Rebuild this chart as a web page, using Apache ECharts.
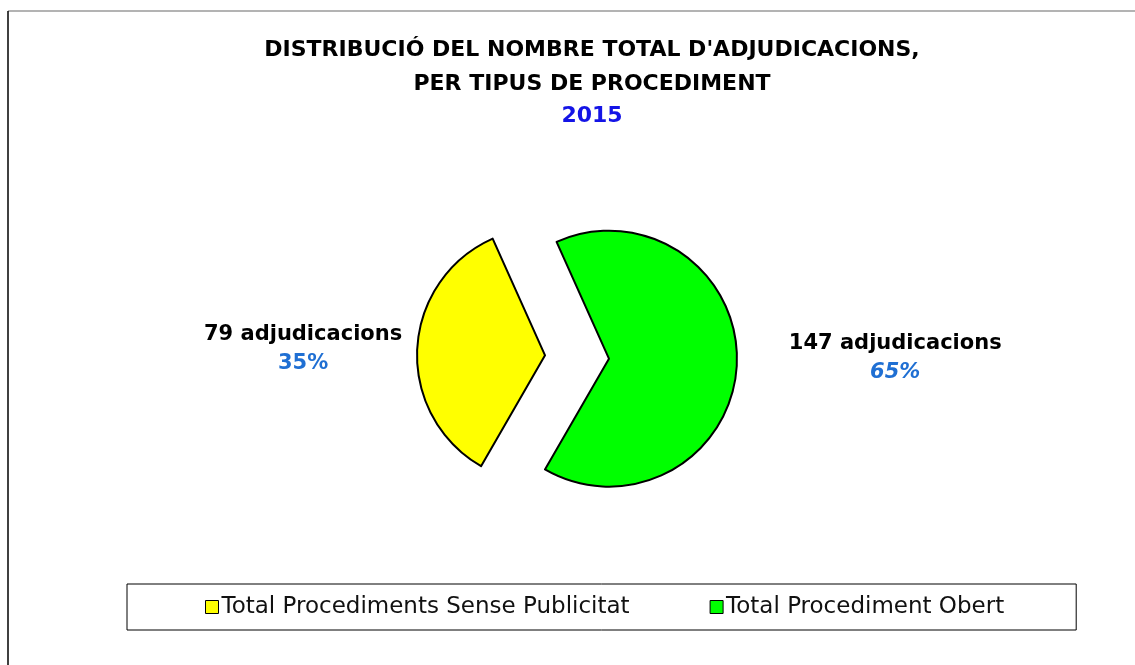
<!DOCTYPE html>
<html>
<head>
<meta charset="utf-8">
<title>Adjudicacions 2015</title>
<script src="https://cdn.jsdelivr.net/npm/echarts@6/dist/echarts.min.js"></script>
<style>
    html, body { margin: 0; padding: 0; background: #fff; }
    #pieChart { width: 1135px; height: 665px; }
</style>
</head>
<body>
<div id="pieChart"></div>
<script>
    // dades
    const categories = ['Total Procediments Sense Publicitat', 'Total Procediment Obert'];
    const counts = [79, 147];
    const titleText = "DISTRIBUCIÓ DEL NOMBRE TOTAL D'ADJUDICACIONS,\nPER TIPUS DE PROCEDIMENT";
    const yearText = '2015';

    const colors = ['#ffff00', '#00ff00'];
    const font = 'DejaVu Sans';

    let chart = echarts.init(document.getElementById('pieChart'));

    const pieData = categories.map(function (name, i) {
        return {
            name: name,
            value: counts[i],
            selected: true,
            itemStyle: { color: colors[i] },
            labelLine: i === 0 ? { show: false, length: 5, length2: 5 } : { show: false, length: 5, length2: 42 },
            label: {
                padding: i === 0 ? 0 : [0, 0, 15, 0],
                rich: {
                    p: { fontStyle: i === 1 ? 'italic' : 'normal' }
                }
            }
        };
    });

    const option = {
        animation: false,
        title: {
            text: titleText,
            subtext: yearText,
            left: 587,
            textAlign: 'center',
            top: 28,
            itemGap: 0,
            textStyle: {
                fontFamily: font,
                fontSize: 22,
                fontWeight: 'bold',
                color: '#000',
                lineHeight: 34
            },
            subtextStyle: {
                fontFamily: font,
                fontSize: 22,
                fontWeight: 'bold',
                color: '#1414e6',
                lineHeight: 30
            }
        },
        legend: {
            data: categories,
            left: 127,
            top: 584,
            orient: 'horizontal',
            icon: 'rect',
            itemWidth: 13,
            itemHeight: 13,
            itemGap: 80,
            padding: [10, 72, 10, 78],
            borderColor: '#000',
            borderWidth: 1,
            borderRadius: 0,
            selectedMode: false,
            itemStyle: { borderColor: '#000', borderWidth: 1 },
            textStyle: {
                fontFamily: font,
                fontSize: 23,
                color: '#111',
                lineHeight: 26,
                padding: [0, 0, 0, -2]
            }
        },
        graphic: [
            { type: 'line', shape: { x1: 8, y1: 11, x2: 1135, y2: 11 }, style: { stroke: '#9a9a9a', lineWidth: 1.5 } },
            { type: 'line', shape: { x1: 8, y1: 11, x2: 8, y2: 665 }, style: { stroke: '#000', lineWidth: 1.5 } }
        ],
        series: [
            {
                type: 'pie',
                center: [577, 357],
                radius: [0, 128],
                startAngle: 240,
                clockwise: true,
                selectedMode: 'multiple',
                selectedOffset: 32,
                percentPrecision: 0,
                emphasis: { disabled: true },
                itemStyle: { borderColor: '#000', borderWidth: 2 },
                label: {
                    show: true,
                    position: 'outside',
                    distanceToLabelLine: 5,
                    formatter: function (p) {
                        return '{n|' + p.value + ' adjudicacions}\n{p|' + p.percent + '%}';
                    },
                    rich: {
                        n: { fontFamily: font, fontSize: 21, fontWeight: 'bold', color: '#000', lineHeight: 29, align: 'center' },
                        p: { fontFamily: font, fontSize: 21, fontWeight: 'bold', color: '#1f6fd3', lineHeight: 29, align: 'center' }
                    }
                },
                labelLine: { show: false },
                data: pieData
            }
        ]
    };

    chart.setOption(option);

    window.addEventListener('resize', function () {
        chart.resize();
    });
</script>
</body>
</html>
